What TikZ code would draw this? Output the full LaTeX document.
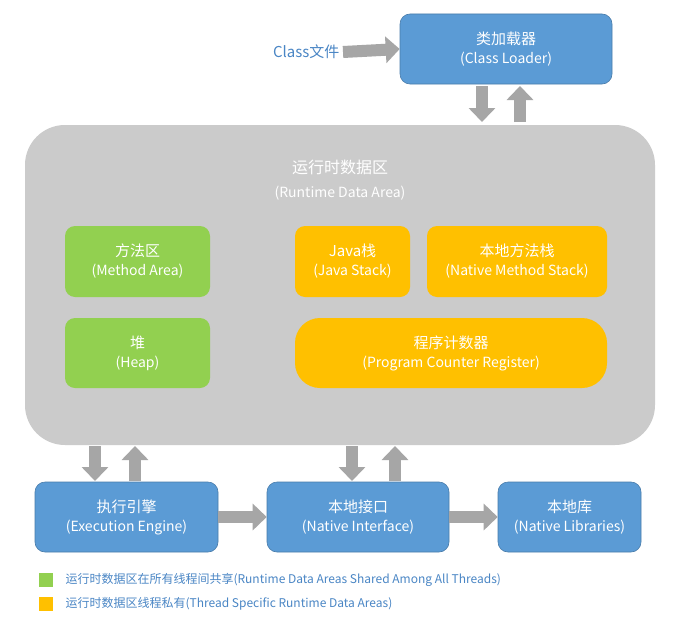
\documentclass[tikz,border=0pt]{standalone}
\usepackage{fontspec}
\setmainfont{Noto Sans CJK SC}
\usetikzlibrary{arrows.meta}
\definecolor{bl}{HTML}{5B9BD5}
\definecolor{gr}{HTML}{92D050}
\definecolor{og}{HTML}{FFC000}
\definecolor{ga}{HTML}{CBCBCB}
\definecolor{ar}{HTML}{A6A6A6}
\definecolor{tx}{HTML}{4A86C5}
\tikzset{
 box/.style={rounded corners=10pt,inner sep=0pt,text=white,align=center,font=\fontsize{14}{19}\selectfont},
 bluebox/.style={box,fill=bl,draw=bl!80!black,line width=0.6pt},
 greenbox/.style={box,fill=gr},
 orangebox/.style={box,fill=og},
 blk/.style={draw=ar,line width=12pt,-{Triangle[width=26pt,length=14pt]},shorten >=0pt}
}
\begin{document}
\begin{tikzpicture}[x=1pt,y=-1pt]
\useasboundingbox (0,0) rectangle (698,626);
\fill[white] (0,0) rectangle (698,626);
\node[box,fill=ga,rounded corners=40pt,minimum width=630pt,minimum height=320pt] (rda) at (340,285) {};
\node[box,align=center,font=\fontsize{16}{24}\selectfont] (rdat) at (340,180) {运行时数据区\\\fontsize{14}{20}\selectfont(Runtime Data Area)};
\node[bluebox,minimum width=212pt,minimum height=70pt] (cl) at (506,49) {{\fontsize{15}{20}\selectfont 类加载器}\\(Class Loader)};
\node[text=tx,font=\fontsize{15}{20}\selectfont,anchor=east] (cf) at (343,52) {Class文件};
\draw[blk] (cf.east) -- (cl.west);
\coordinate (a1) at (482,86); \coordinate (a2) at (482,122);
\coordinate (a3) at (520,122); \coordinate (a4) at (520,86);
\draw[blk] (a1) -- (a2); \draw[blk] (a3) -- (a4);
\node[greenbox,minimum width=145pt,minimum height=71pt] (ma) at (137.5,261.5) {{\fontsize{15}{20}\selectfont 方法区}\\(Method Area)};
\node[greenbox,minimum width=145pt,minimum height=70pt] (hp) at (137.5,353) {{\fontsize{15}{20}\selectfont 堆}\\(Heap)};
\node[orangebox,minimum width=115pt,minimum height=71pt] (js) at (352.5,261.5) {{\fontsize{15}{20}\selectfont Java栈}\\(Java Stack)};
\node[orangebox,minimum width=180pt,minimum height=71pt] (nms) at (517,261.5) {{\fontsize{15}{20}\selectfont 本地方法栈}\\(Native Method Stack)};
\node[orangebox,rounded corners=25pt,minimum width=312pt,minimum height=70pt] (pc) at (451,353) {{\fontsize{15}{20}\selectfont 程序计数器}\\(Program Counter Register)};
\node[bluebox,minimum width=183pt,minimum height=70pt] (ee) at (126.5,517) {{\fontsize{15}{20}\selectfont 执行引擎}\\(Execution Engine)};
\node[bluebox,minimum width=182pt,minimum height=70pt] (ni) at (358,517) {{\fontsize{15}{20}\selectfont 本地接口}\\(Native Interface)};
\node[bluebox,minimum width=143pt,minimum height=70pt] (nl) at (569.5,517) {{\fontsize{15}{20}\selectfont 本地库}\\(Native Libraries)};
\coordinate (b1) at (95,446); \coordinate (b2) at (95,481);
\coordinate (b3) at (135,481); \coordinate (b4) at (135,446);
\coordinate (c1) at (352,446); \coordinate (c2) at (352,481);
\coordinate (c3) at (395,481); \coordinate (c4) at (395,446);
\draw[blk] (b1) -- (b2); \draw[blk] (b3) -- (b4);
\draw[blk] (c1) -- (c2); \draw[blk] (c3) -- (c4);
\draw[blk] (ee.east) -- (ni.west);
\draw[blk] (ni.east) -- (nl.west);
\node[fill=gr,minimum size=14pt,inner sep=0pt] (lg1) at (46,580) {};
\node[fill=og,minimum size=14pt,inner sep=0pt] (lg2) at (46,604) {};
\node[anchor=west,text=tx,font=\fontsize{12}{14}\selectfont] (lt1) at (62,580) {运行时数据区在所有线程间共享(Runtime Data Areas Shared Among All Threads)};
\node[anchor=west,text=tx,font=\fontsize{12}{14}\selectfont] (lt2) at (62,604) {运行时数据区线程私有(Thread Specific Runtime Data Areas)};
\end{tikzpicture}
\end{document}
